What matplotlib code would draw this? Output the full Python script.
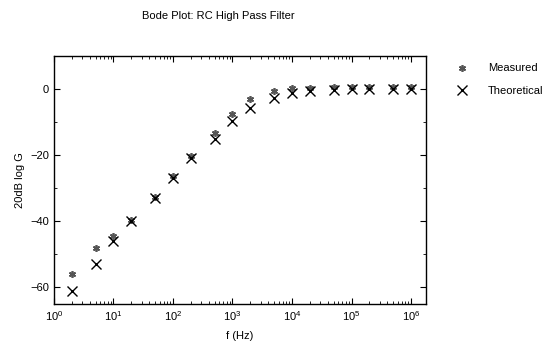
import matplotlib
matplotlib.use("Agg")
import matplotlib.pyplot as plt
from matplotlib.ticker import MultipleLocator, FixedLocator, NullFormatter

plt.rcParams['font.family'] = ['Liberation Sans', 'DejaVu Sans']

# frequencies (Hz)
freq = [2, 5, 10, 20, 50, 100, 200, 500, 1e3, 2e3, 5e3, 1e4, 2e4, 5e4, 1e5, 2e5, 5e5, 1e6]
# gain readings (dB)
measured = [-56, -48.2, -44.5, -39.7, -32.7, -26.4, -20.3, -13.3, -7.6, -3.0,
            -0.6, 0.3, 0.3, 0.6, 0.6, 0.6, 0.6, 0.6]
theoretical = [-61, -53, -46, -40, -33, -27, -21, -15, -9.7, -5.8,
               -2.7, -1.2, -0.5, -0.2, 0, 0, 0, 0]
decades = [1, 10, 100, 1e3, 1e4, 1e5, 1e6]

fig = plt.figure(figsize=(5.5, 3.45), dpi=100)
ax = fig.add_axes([0.098, 0.119, 0.677, 0.719])

ax.plot(freq, measured, linestyle='none', marker=(6, 2, 0), markersize=5,
        color='#555555', markeredgewidth=1.2, label='Measured')
ax.plot(freq, theoretical, linestyle='none', marker='x', markersize=6.5,
        color='black', markeredgewidth=1.0, label='Theoretical')

ax.set_xscale('log')
ax.set_xlim(1, 1.8e6)
ax.set_ylim(-65, 10)
ax.yaxis.set_major_locator(MultipleLocator(20))
ax.yaxis.set_minor_locator(MultipleLocator(10))
ax.xaxis.set_major_locator(FixedLocator(decades))
ax.xaxis.set_minor_locator(FixedLocator([d * k for d in decades for k in range(2, 10)]))
ax.xaxis.set_minor_formatter(NullFormatter())

ax.tick_params(which='both', direction='in', top=True, right=True, labelsize=8)
ax.tick_params(which='major', length=4)
ax.tick_params(which='minor', length=2.5)
for s in ax.spines.values():
    s.set_linewidth(1.0)

ax.set_xlabel('f (Hz)', fontsize=8, labelpad=6)
ax.set_ylabel('20dB log G', fontsize=8, labelpad=4)
fig.text(0.397, 0.955, 'Bode Plot: RC High Pass Filter', fontsize=8, ha='center', va='center')

ax.legend(loc='upper left', bbox_to_anchor=(1.055, 1.01), frameon=False,
          fontsize=8, handletextpad=1.8, labelspacing=1.15, handlelength=1.0)

fig.savefig('out.png', dpi=100)
